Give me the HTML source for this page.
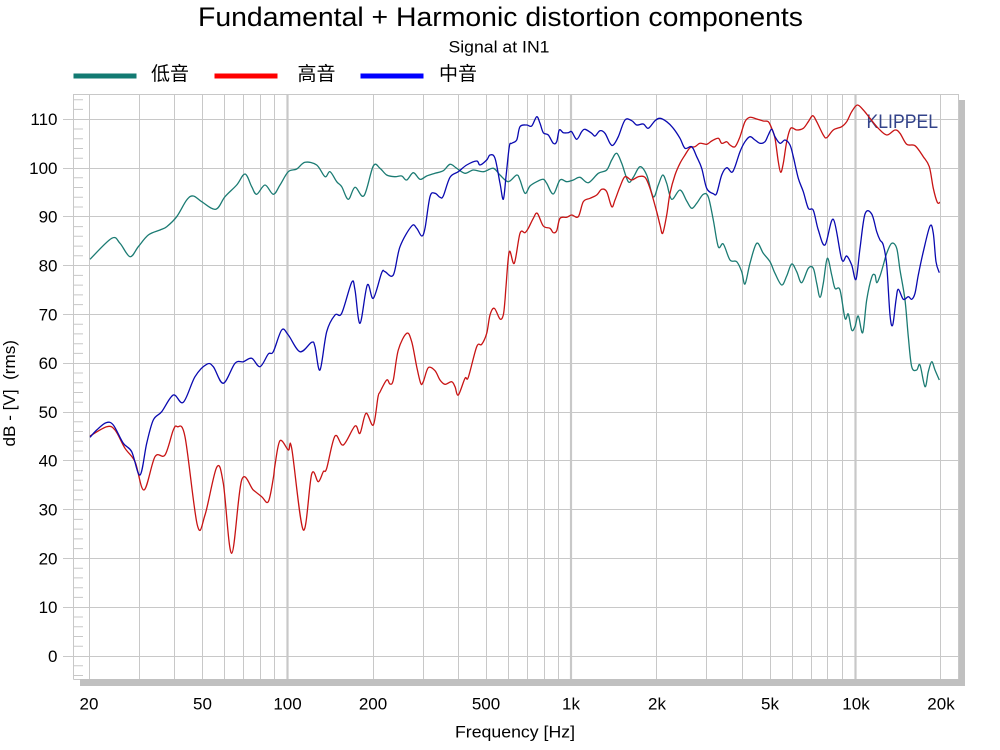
<!DOCTYPE html>
<html><head><meta charset="utf-8"><style>
html,body{margin:0;padding:0;background:#fff;}
svg{display:block;}
text{font-family:"Liberation Sans",Arial,sans-serif;fill:#000;}
.cjk{font-family:"Liberation Sans","Noto Sans CJK SC",sans-serif;}
</style></head><body>
<svg id="chart" width="1000" height="750" viewBox="0 0 1000 750" xmlns="http://www.w3.org/2000/svg">
<rect width="1000" height="750" fill="#fff"/>
<!-- titles -->
<text x="198" y="26" font-size="27" textLength="605" lengthAdjust="spacingAndGlyphs">Fundamental + Harmonic distortion components</text>
<text x="448.5" y="52.5" font-size="17" textLength="101" lengthAdjust="spacingAndGlyphs">Signal at IN1</text>
<!-- legend -->
<line x1="73.5" y1="76" x2="136.5" y2="76" stroke="#127a72" stroke-width="5"/>
<text class="cjk" x="151" y="80" font-size="19">低音</text>
<line x1="214.5" y1="76" x2="277.5" y2="76" stroke="#ff0000" stroke-width="5"/>
<text class="cjk" x="297.5" y="80" font-size="19">高音</text>
<line x1="360.5" y1="76" x2="423.5" y2="76" stroke="#0000ff" stroke-width="5"/>
<text class="cjk" x="439" y="80" font-size="19">中音</text>
<!-- shadow -->
<rect x="80" y="679" width="885" height="7" fill="#c0c0c0"/>
<rect x="958.5" y="100" width="6.5" height="586" fill="#c0c0c0"/>
<!-- vertical grid -->
<g stroke="#c8c8c8" stroke-width="1">
<path d="M89.5 94V679M139.5 94V679M174.5 94V679M202.5 94V679M224.5 94V679M243.5 94V679M260.5 94V679M274.5 94V679
M373.5 94V679M423.5 94V679M458.5 94V679M486.5 94V679M508.5 94V679M527.5 94V679M544.5 94V679M558.5 94V679
M656.5 94V679M706.5 94V679M742.5 94V679M770.5 94V679M792.5 94V679M811.5 94V679M827.5 94V679M842.5 94V679
M940.5 94V679"/>
</g>
<g stroke="#c8c8c8" stroke-width="2.2">
<path d="M287.5 94V679M571 94V679M855.5 94V679"/>
</g>
<!-- horizontal grid -->
<g stroke="#c8c8c8" stroke-width="1">
<path d="M63 656.5H958M63 607.5H958M63 558.5H958M63 509.5H958M63 460.5H958M63 412.5H958M63 363.5H958M63 314.5H958M63 265.5H958M63 216.5H958M63 168.5H958M63 119.5H958"/>
<path d="M73.5 675.5h9.5M73.5 665.8h9.5M73.5 646.2h9.5M73.5 636.5h9.5M73.5 626.7h9.5M73.5 617h9.5M73.5 597.4h9.5M73.5 587.7h9.5M73.5 577.9h9.5M73.5 568.2h9.5M73.5 548.6h9.5M73.5 538.9h9.5M73.5 529.1h9.5M73.5 519.4h9.5M73.5 499.8h9.5M73.5 490.1h9.5M73.5 480.3h9.5M73.5 470.6h9.5M73.5 451h9.5M73.5 441.3h9.5M73.5 431.5h9.5M73.5 421.8h9.5M73.5 402.2h9.5M73.5 392.5h9.5M73.5 382.7h9.5M73.5 373h9.5M73.5 353.4h9.5M73.5 343.7h9.5M73.5 333.9h9.5M73.5 324.2h9.5M73.5 304.6h9.5M73.5 294.9h9.5M73.5 285.1h9.5M73.5 275.4h9.5M73.5 255.8h9.5M73.5 246.1h9.5M73.5 236.3h9.5M73.5 226.6h9.5M73.5 207h9.5M73.5 197.3h9.5M73.5 187.5h9.5M73.5 177.8h9.5M73.5 158.2h9.5M73.5 148.5h9.5M73.5 138.7h9.5M73.5 129h9.5M73.5 109.4h9.5M73.5 99.7h9.5"/>
<!-- border -->
<path d="M73.5 679.5V94.5H958.5V679M73.5 679.5H80" fill="none"/>
</g>
<!-- y tick labels -->
<g font-size="17" text-anchor="end">
<text x="57.5" y="662">0</text>
<text x="57.5" y="613">10</text>
<text x="57.5" y="564.5">20</text>
<text x="57.5" y="515.5">30</text>
<text x="57.5" y="466.5">40</text>
<text x="57.5" y="418">50</text>
<text x="57.5" y="369">60</text>
<text x="57.5" y="320.5">70</text>
<text x="57.5" y="271.5">80</text>
<text x="57.5" y="222.5">90</text>
<text x="57.5" y="174">100</text>
<text x="57.5" y="125">110</text>
</g>
<!-- x tick labels -->
<g font-size="17" text-anchor="middle">
<text x="89" y="709.5">20</text>
<text x="202.5" y="709.5">50</text>
<text x="287.5" y="709.5">100</text>
<text x="373" y="709.5">200</text>
<text x="486" y="709.5">500</text>
<text x="571" y="709.5">1k</text>
<text x="657" y="709.5">2k</text>
<text x="770" y="709.5">5k</text>
<text x="856" y="709.5">10k</text>
<text x="941" y="709.5">20k</text>
</g>
<text x="455" y="737.5" font-size="17" textLength="120" lengthAdjust="spacingAndGlyphs">Frequency [Hz]</text>
<text transform="translate(15,446.5) rotate(-90)" font-size="16.5" textLength="106.5" lengthAdjust="spacingAndGlyphs" xml:space="preserve">dB - [V]  (rms)</text>
<text x="866.5" y="128" font-size="19" style="fill:#33438a" textLength="71.5" lengthAdjust="spacingAndGlyphs">KLIPPEL</text>
<!-- curves -->
<g id="curves" fill="none" stroke-width="1.3" stroke-linejoin="round">
<polyline stroke="#1b7b73" points="90,259.3 111.7,238.3 120,243.3 130,256.7 138.3,246.7 148.3,235 160,230 166.7,226.7 176.7,216.7 186.7,200 193.3,196 201.7,201.7 215.7,209.3 225,196.7 236.7,185 245,174 251.7,186.7 256.7,194.3 265,185 273.3,194.3 280,185 288.3,171.7 296.7,169 305,162.3 316.7,165 325,176.7 330,171.7 336.7,181.7 341.7,186.7 348.3,199.3 355,187.3 364,195.7 373.3,166 380,168.3 386.7,175 395,176.7 401.7,176 406.7,180 413.3,172.7 420,179.3 426.7,176 435,173.3 443.3,170.7 450,164.3 456.7,168.3 465,173.3 473.3,170 483.3,171.7 493.3,168.3 500,175 508.3,181.7 516.7,175 520,180 525,193.3 530,186 536.7,181.7 543.3,179.3 546.7,183.3 553.3,194 560,180 566.7,181.7 573.3,180 580,177.3 588.3,182.7 598.3,173.3 606.7,170 611.7,160 616.7,153.3 621.7,163.3 628.3,181.7 633.3,177.3 640,166.7 646.7,175 653.3,196.7 658.3,185 662.7,175 666.7,183.3 671.7,199.3 680,190 686.7,201 691.7,208.3 696.7,203.3 703.3,194.3 708.3,197 713.3,220 718.3,246.7 723.3,244 730,260 736.7,261.7 741.7,271.7 745,284 750,263.3 756.7,243.3 763.3,253.3 770,261.7 775,273.3 781.7,285 786.7,276 791.7,264 796.7,271.7 801.7,282.7 808.3,268.3 813.3,268.3 816.7,283.3 820,297.3 823.3,283.3 827.3,258.3 831.7,275 835,288.3 840,290 845,318.3 848.3,314 851.7,330 855,326.7 858.3,316 862.7,332.7 866.7,300 871.7,277.3 875,275 876.7,282.7 880,276 883.3,265 886.7,253.3 891.7,243.3 896.7,248.3 900,270 905,300 908.3,336.7 911.7,366.7 916.7,370 920,365 925,386.7 928.3,371.7 931.7,361.7 935,370 939.3,380"/>
<polyline stroke="#c81414" points="90,436 106.7,426.7 115,430 125,448.3 135,461.7 144,490 155,456.7 165,455 173.3,430 177.3,426.7 185,436.7 197.3,525 205,515 216.7,467.3 223.3,483.3 231.7,553.3 241.7,480 253.3,490 261.7,496.7 268.3,501.7 273.3,478.3 275,465 280,440.7 288.3,450 291.7,448.3 303.3,530 311.7,474 318.3,481.7 323.3,471.7 326.7,468.3 335,436 343.3,445 355,426 360,433.3 366,413.3 373.3,425 378,397 380,392 386.7,380 390,384 393.3,380 398.3,350 406.7,333.3 411.7,341.7 416.7,366.7 420.7,383.3 423.3,381.7 428.3,367.7 435,370.7 440,380 445,384.3 451.7,381.7 455,386.7 458.3,395 465,378.3 468.3,377.3 476.7,346.7 481.7,344.3 486.7,333.3 490,315 494.3,308.3 500,319 503.3,315 505,300 506,286.7 509.3,251.7 514.3,263.3 520,233.3 525,232.7 528.3,228.3 533.3,218.3 537.3,213.3 543.3,226 550,228.3 553.3,232.7 556.7,230.7 560,218.3 566.7,217.3 571.7,215 578.3,216.7 583.3,201.7 590,198.3 596.7,195 601.7,189.3 606.7,191.7 611.7,206.7 615,200 620,186.7 625,176.7 631.7,180 638.3,176.7 645,177.3 650,188.3 656.7,211.7 660,225 662.7,233.3 666.7,215 670,193.3 675,175 680,163.3 685,155 690,147.7 695,146.7 700,143.3 706.7,144.3 711.7,141 718.3,138.3 721.7,143.3 726.7,141.7 730,145 735,146.7 740,136.7 745,121.7 750,117.3 756.7,119 763.3,121 768.3,121.7 771.7,128.3 775,138.3 778.3,161.7 780.7,172.3 783.3,163.3 786.7,141.7 790.7,128.3 796.7,130 803.3,128.3 808.3,121.7 812.7,115.7 816.7,121.7 823.3,135 826.7,137.7 833.3,130 841.7,126.7 846.7,121.7 851.7,111.7 857.3,105 863.3,110 870,118.3 878.3,128.3 886.7,135 895,130 900,133.3 906.7,144.3 915,145.7 923.3,156.7 929.3,166.7 933.3,188.3 937.3,202.3 940,202.3"/>
<polyline stroke="#0a0ab0" points="90,437.3 96.7,430 106,422.7 113.3,425 123.3,443.3 131.7,451.7 140,475 146.7,443.3 153.3,420 161.7,411.7 173.3,395 183.3,402.3 195,376.7 206.7,364.3 213.3,366.7 223.3,383.3 235,363.3 243.3,361.7 251.7,358.3 260,366.7 268.3,354 273.3,351.7 281.7,330 288.3,335 300,351.7 311.7,342.3 315,346.7 320,370 326.7,331.7 335,315 341.7,313.3 351.7,282.3 355,290 360,323.3 367.3,285 373.3,298.3 381.7,272.7 385,271.7 393.3,275 400,246.7 411.7,226 416.7,228.3 421.7,236 425,228.3 430,196.7 435,193.3 440,197.3 443.3,196 450,177.3 458.3,171.7 466.7,165 476.7,161 480,165 486.7,160 490,155 495,158.3 500,183.3 503.3,199.3 506,176.7 509.3,146.7 511.7,143.3 516.7,140 520,126.7 526.7,125 531.7,126 536.7,116.7 540,123.3 543.3,132.7 548.3,135 553.3,143.3 556.7,141.7 559.3,130 563.3,132.7 568.3,132.7 571.7,131.7 576.7,139.3 581.7,131.7 585,129.3 591.7,133.3 595,136 600,130.7 605,133.3 610,143.3 613.3,145 618.3,136.7 625,120 631.7,120.7 636.7,125 643.3,124 648.3,128.3 655,120.7 660,118.3 666.7,121.7 673.3,128.3 680,138.3 685,148.3 691.7,146.7 696.7,156.7 701.7,168.3 706.7,188.3 713.3,193.7 716.7,193.3 721.7,175 726.7,167.7 731.7,172.3 735,166.7 740,151.7 745,141.7 750,136.7 755,140 760,143.3 765,141.7 768.3,135 771.7,129.3 775,136.7 780,143.3 785,140 790,145 793.3,156.7 798.3,178.3 803.3,191.7 808.3,208.3 813.3,210.3 818.3,230 825,245 833.3,219.3 841.7,259.3 846.7,256 851.7,265 856,279.3 860,248.3 865,214 871.7,214 876.7,231.7 880,240 883.3,245 886.7,265 890,315 892.7,325 896,300 898.3,289.3 903.3,299.3 908.3,296.7 911.7,299.3 915,293.3 918.3,275 923.3,251.7 930,226 933.3,233.3 936,261.7 939.3,272.7"/>
</g>
</svg>
<script>
(function(){
  try{
    var NS="http://www.w3.org/2000/svg";
    var pls=document.querySelectorAll("#curves polyline");
    for(var k=0;k<pls.length;k++){
      var pl=pls[k];
      var raw=pl.getAttribute("points").trim().split(/\s+/);
      var p=[];
      for(var i=0;i<raw.length;i++){var c=raw[i].split(",");p.push([+c[0],+c[1]]);}
      var d="M"+p[0][0]+" "+p[0][1];
      var t=0.5/3;
      for(var i=0;i<p.length-1;i++){
        var p0=p[i>0?i-1:i],p1=p[i],p2=p[i+1],p3=p[i+2<p.length?i+2:i+1];
        var c1x=p1[0]+(p2[0]-p0[0])*t, c1y=p1[1]+(p2[1]-p0[1])*t;
        var c2x=p2[0]-(p3[0]-p1[0])*t, c2y=p2[1]-(p3[1]-p1[1])*t;
        /* keep control x within segment to avoid loops */
        if(c1x>p2[0])c1x=p2[0]; if(c2x<p1[0])c2x=p1[0];
        d+="C"+c1x.toFixed(2)+" "+c1y.toFixed(2)+" "+c2x.toFixed(2)+" "+c2y.toFixed(2)+" "+p2[0]+" "+p2[1];
      }
      var path=document.createElementNS(NS,"path");
      path.setAttribute("d",d);
      path.setAttribute("stroke",pl.getAttribute("stroke"));
      pl.parentNode.replaceChild(path,pl);
    }
  }catch(e){}
})();
</script>
</body></html>
